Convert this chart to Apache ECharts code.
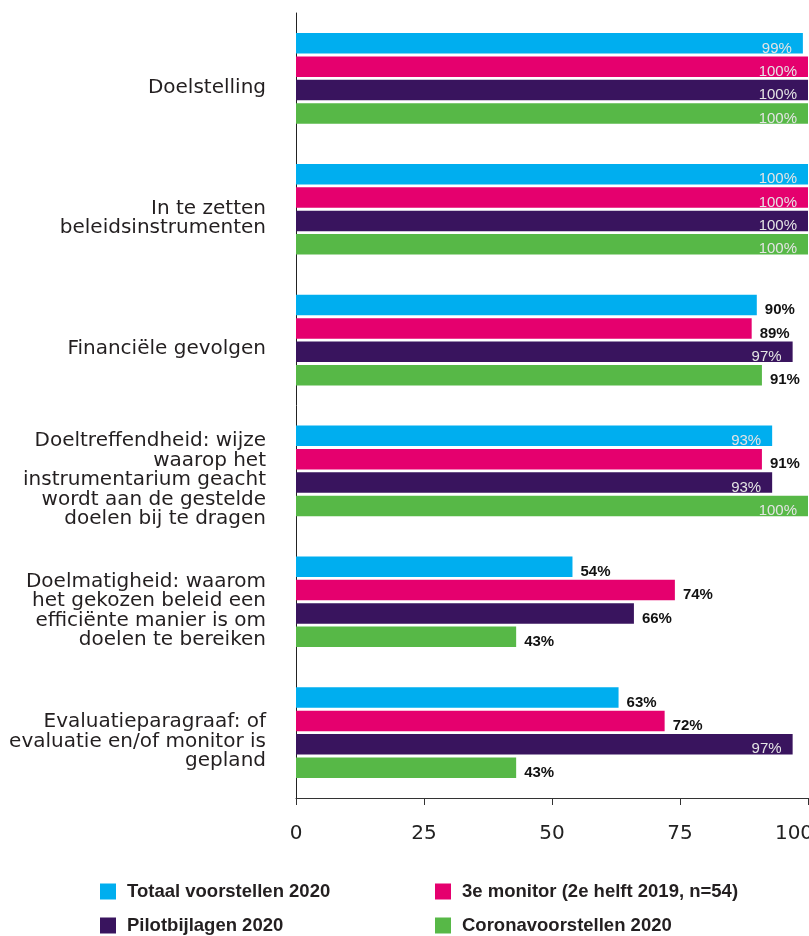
<!DOCTYPE html>
<html>
<head>
<meta charset="utf-8">
<style>
  html, body { margin: 0; padding: 0; background: #fff; }
  #chart { width: 809px; height: 936px; }
</style>
<script src="https://cdn.jsdelivr.net/npm/echarts@6/dist/echarts.min.js"></script>
</head>
<body>
<div id="chart"></div>
<script>
const categories = [
  'Doelstelling',
  'In te zetten\nbeleidsinstrumenten',
  'Financiële gevolgen',
  'Doeltreffendheid: wijze\nwaarop het\ninstrumentarium geacht\nwordt aan de gestelde\ndoelen bij te dragen',
  'Doelmatigheid: waarom\nhet gekozen beleid een\nefficiënte manier is om\ndoelen te bereiken',
  'Evaluatieparagraaf: of\nevaluatie en/of monitor is\ngepland',
];

const seriesNames = [
  'Totaal voorstellen 2020',
  '3e monitor (2e helft 2019, n=54)',
  'Pilotbijlagen 2020',
  'Coronavoorstellen 2020',
];

const totaal = [99, 100, 90, 93, 54, 63];
const monitor = [100, 100, 89, 91, 74, 72];
const pilot = [100, 100, 97, 93, 66, 97];
const corona = [100, 100, 91, 100, 43, 43];

const xTicks = [0, 25, 50, 75, 100];

const colors = ['#00AEEF', '#E5006E', '#39145E', '#57B847'];

const insideLabel = {
  show: true,
  position: 'insideRight',
  distance: 11,
  offset: [0, 5],
  color: '#e4e4e4',
  fontFamily: 'Liberation Sans, Arial, sans-serif',
  fontSize: 15,
  formatter: '{c}%',
};

const outsideLabel = {
  show: true,
  position: 'right',
  distance: 8,
  offset: [0, 5],
  color: '#111',
  fontFamily: 'Liberation Sans, Arial, sans-serif',
  fontWeight: 'bold',
  fontSize: 15,
  formatter: '{c}%',
};

function buildSeries(name, values, color) {
  return {
    name: name,
    type: 'bar',
    barWidth: 20.5,
    barGap: '14%',
    itemStyle: { color: color },
    data: values.map((v) => ({
      value: v,
      label: v >= 93 ? insideLabel : outsideLabel,
    })),
  };
}

function buildLegend(name, left, top) {
  return {
    data: [name],
    left: left,
    top: top,
    padding: 0,
    icon: 'rect',
    itemWidth: 16,
    itemHeight: 16,
    selectedMode: false,
    textStyle: {
      color: '#231f20',
      fontFamily: 'Liberation Sans, Arial, sans-serif',
      fontWeight: 'bold',
      fontSize: 18.5,
      padding: [0, 0, 0, 6],
    },
  };
}

const xMax = xTicks[xTicks.length - 1];

const chart = echarts.init(document.getElementById('chart'));

chart.setOption({
  backgroundColor: '#fff',
  animation: false,
  // grid 0 holds the bars, grid 1 (9px lower) only carries the category labels
  grid: [
    { left: 296, right: 1, top: 13, bottom: 138, outerBoundsMode: 'none' },
    { left: 296, right: 1, top: 22, bottom: 129, outerBoundsMode: 'none' },
  ],
  legend: [
    buildLegend(seriesNames[0], 100, 882),
    buildLegend(seriesNames[1], 435, 882),
    buildLegend(seriesNames[2], 100, 916),
    buildLegend(seriesNames[3], 435, 916),
  ],
  xAxis: [
    {
      type: 'value',
      gridIndex: 0,
      min: xTicks[0],
      max: xMax,
      interval: 25,
      splitLine: { show: false },
      axisLine: { show: true, lineStyle: { color: '#333', width: 1 } },
      axisTick: { show: true, length: 7, lineStyle: { color: '#333' } },
      axisLabel: {
        color: '#222',
        fontFamily: 'DejaVu Sans, sans-serif',
        fontSize: 20,
        margin: 26,
        formatter: (v) => (v === xMax ? '{last|' + v + '}' : String(v)),
        rich: {
          last: {
            color: '#222',
            fontFamily: 'DejaVu Sans, sans-serif',
            fontSize: 20,
            padding: [0, 28, 0, 0],
          },
        },
      },
    },
    { type: 'value', gridIndex: 1, min: 0, max: xMax, show: false },
  ],
  yAxis: [
    {
      type: 'category',
      gridIndex: 0,
      inverse: true,
      data: categories,
      axisLine: { show: true, lineStyle: { color: '#222', width: 1 } },
      axisTick: { show: false },
      axisLabel: { show: false },
    },
    {
      type: 'category',
      gridIndex: 1,
      inverse: true,
      data: categories,
      axisLine: { show: false },
      axisTick: { show: false },
      axisLabel: {
        color: '#231f20',
        fontFamily: 'DejaVu Sans, sans-serif',
        fontSize: 20,
        lineHeight: 19.5,
        align: 'right',
        margin: 30,
      },
    },
  ],
  series: [
    buildSeries(seriesNames[0], totaal, colors[0]),
    buildSeries(seriesNames[1], monitor, colors[1]),
    buildSeries(seriesNames[2], pilot, colors[2]),
    buildSeries(seriesNames[3], corona, colors[3]),
  ],
});
</script>
</body>
</html>
